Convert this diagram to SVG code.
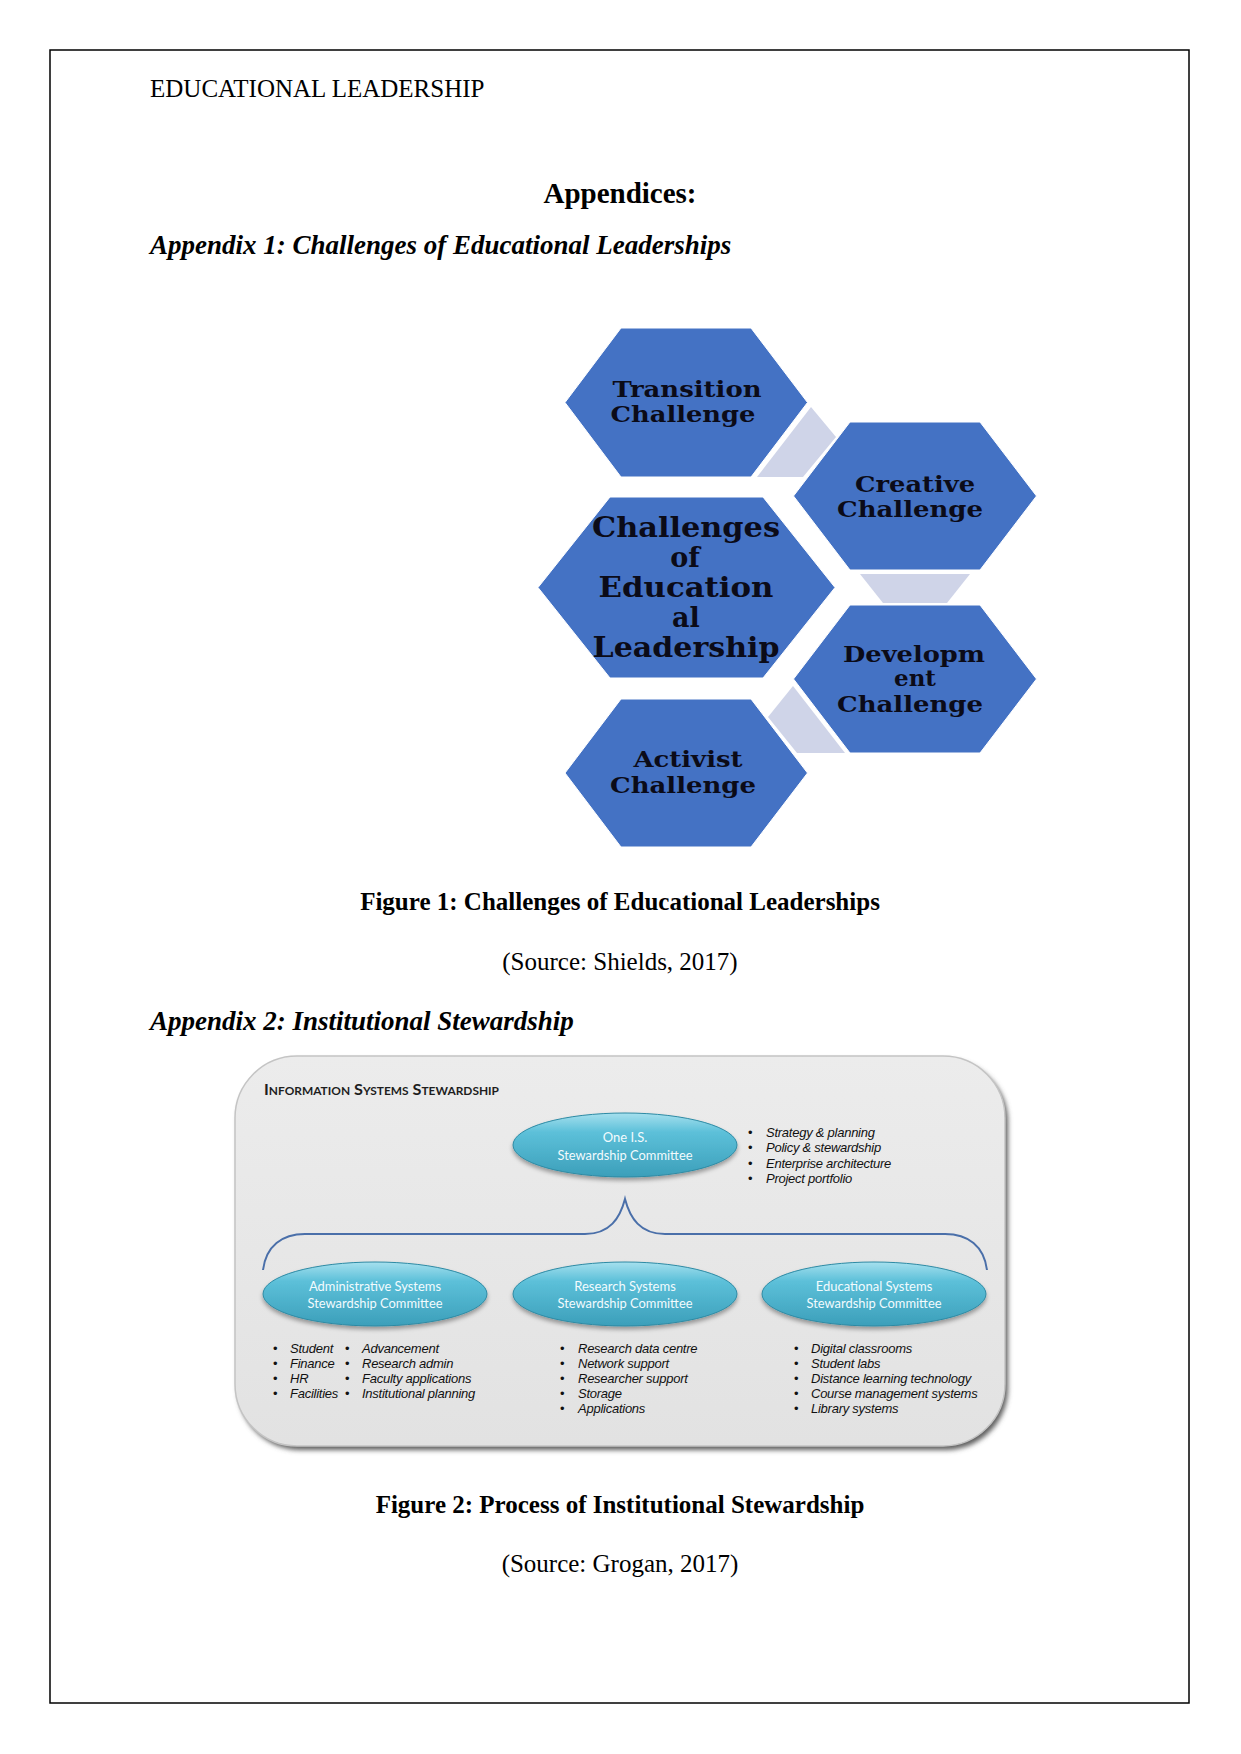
<svg xmlns="http://www.w3.org/2000/svg" width="1241" height="1754" viewBox="0 0 1241 1754">
<style>
.pg{font-family:"Liberation Serif","Times New Roman",serif;fill:#000}
.hx{fill:#4472C4;stroke:#ffffff;stroke-width:1}
.cn{fill:#CFD4E8}
.ht{font-family:"DejaVu Serif","Liberation Serif",serif;font-weight:bold;fill:#0b0b18;text-anchor:middle}
.et{font-family:Lato,"Open Sans",sans-serif;font-size:13px;fill:#f2fbfe;text-anchor:middle}
.bl{font-family:"Liberation Sans",Arial,sans-serif;font-style:italic;font-size:13px;letter-spacing:-0.25px;fill:#111}
.bu{font-family:"Liberation Sans",Arial,sans-serif;font-size:13px;fill:#111}
.ell{fill:url(#eg);stroke:#2d8aa4;stroke-width:1;filter:url(#es)}
</style>
<defs>
<linearGradient id="eg" x1="0" y1="0" x2="0" y2="1">
<stop offset="0" stop-color="#a6e0ee"/>
<stop offset="0.3" stop-color="#5cc0d9"/>
<stop offset="1" stop-color="#3c9fba"/>
</linearGradient>
<linearGradient id="fg" x1="0" y1="0" x2="0" y2="1">
<stop offset="0" stop-color="#ececec"/>
<stop offset="1" stop-color="#e2e2e2"/>
</linearGradient>
<filter id="es" x="-10%" y="-20%" width="120%" height="150%">
<feDropShadow dx="0" dy="3" stdDeviation="2" flood-color="#000" flood-opacity="0.35"/>
</filter>
<filter id="fs" x="-5%" y="-5%" width="110%" height="115%">
<feGaussianBlur stdDeviation="2.5"/>
</filter>
</defs>
<rect x="0" y="0" width="1241" height="1754" fill="#ffffff"/>
<rect x="50" y="50" width="1139" height="1653" fill="none" stroke="#000" stroke-width="1.5"/>

<text class="pg" x="150" y="97" font-size="25">EDUCATIONAL LEADERSHIP</text>
<text class="pg" x="620" y="203" font-size="29" font-weight="bold" text-anchor="middle">Appendices:</text>
<text class="pg" x="150" y="254" font-size="27" font-weight="bold" font-style="italic">Appendix 1: Challenges of Educational Leaderships</text>

<g id="connectors">
<polygon class="cn" points="811,407 836,437 803,477 757,477"/>
<polygon class="cn" points="860,574 970,574 947,603 883,603"/>
<polygon class="cn" points="793,686 768,717 797,753 845,753"/>
</g>

<g id="hex-transition">
<polygon class="hx" points="565,402.5 621,328 751,328 807.5,402.5 751,477 621,477"/>
<text class="ht" font-size="23"><tspan x="687" y="397" textLength="149" lengthAdjust="spacingAndGlyphs">Transition</tspan><tspan x="683" y="422" textLength="145" lengthAdjust="spacingAndGlyphs">Challenge</tspan></text>
</g>
<g id="hex-creative">
<polygon class="hx" points="793.5,496 850,422 980,422 1036.5,496 980,570 850,570"/>
<text class="ht" font-size="23"><tspan x="915" y="492" textLength="120" lengthAdjust="spacingAndGlyphs">Creative</tspan><tspan x="910" y="517" textLength="146" lengthAdjust="spacingAndGlyphs">Challenge</tspan></text>
</g>
<g id="hex-center">
<polygon class="hx" points="538,587.5 610,497 763,497 835,587.5 763,678 610,678"/>
<text class="ht" font-size="27"><tspan x="686" y="537" textLength="188" lengthAdjust="spacingAndGlyphs">Challenges</tspan><tspan x="685" y="567">of</tspan><tspan x="686" y="597" textLength="175" lengthAdjust="spacingAndGlyphs">Education</tspan><tspan x="686" y="627">al</tspan><tspan x="686" y="657" textLength="187" lengthAdjust="spacingAndGlyphs">Leadership</tspan></text>
</g>
<g id="hex-development">
<polygon class="hx" points="793.5,679 850,605 980,605 1036.5,679 980,753 850,753"/>
<text class="ht" font-size="23"><tspan x="914" y="662" textLength="142" lengthAdjust="spacingAndGlyphs">Developm</tspan><tspan x="915" y="686">ent</tspan><tspan x="910" y="712" textLength="146" lengthAdjust="spacingAndGlyphs">Challenge</tspan></text>
</g>
<g id="hex-activist">
<polygon class="hx" points="565,773 621,699 751,699 807.5,773 751,847 621,847"/>
<text class="ht" font-size="23"><tspan x="688" y="767" textLength="109" lengthAdjust="spacingAndGlyphs">Activist</tspan><tspan x="683" y="793" textLength="146" lengthAdjust="spacingAndGlyphs">Challenge</tspan></text>
</g>

<text class="pg" x="620" y="910" font-size="25" font-weight="bold" text-anchor="middle">Figure 1: Challenges of Educational Leaderships</text>
<text class="pg" x="620" y="970" font-size="25" text-anchor="middle">(Source: Shields, 2017)</text>
<text class="pg" x="150" y="1030" font-size="27" font-weight="bold" font-style="italic">Appendix 2: Institutional Stewardship</text>

<g id="stewardship-frame">
<rect x="238" y="1060" width="770" height="390" rx="62" ry="62" fill="#5e5e5e" filter="url(#fs)"/>
<rect x="235" y="1056" width="770" height="390" rx="62" ry="62" fill="url(#fg)" stroke="#c4c4c4" stroke-width="1.5"/>
<text x="264" y="1095" font-family="Lato,'Liberation Sans',sans-serif" font-weight="bold" font-size="15" font-variant="small-caps" fill="#1e1e1e" textLength="235" lengthAdjust="spacingAndGlyphs">Information Systems Stewardship</text>
</g>

<g id="connectors-brace">
<path d="M263,1270 C266,1246 282,1234 305,1234 L585,1234 C610,1234 620,1218 625,1199 C630,1218 640,1234 665,1234 L945,1234 C968,1234 984,1246 987,1270" fill="none" stroke="#4a6fa9" stroke-width="2"/>
</g>

<g id="node-one-is">
<ellipse class="ell" cx="625" cy="1145" rx="112" ry="32"/>
<text class="et"><tspan x="625" y="1142">One I.S.</tspan><tspan x="625" y="1160" textLength="135" lengthAdjust="spacingAndGlyphs">Stewardship Committee</tspan></text>
<text class="bu"><tspan x="748" y="1137">•</tspan><tspan x="748" y="1152">•</tspan><tspan x="748" y="1168">•</tspan><tspan x="748" y="1183">•</tspan></text>
<text class="bl"><tspan x="766" y="1137">Strategy &amp; planning</tspan><tspan x="766" y="1152">Policy &amp; stewardship</tspan><tspan x="766" y="1168">Enterprise architecture</tspan><tspan x="766" y="1183">Project portfolio</tspan></text>
</g>

<g id="node-admin">
<ellipse class="ell" cx="375" cy="1294" rx="112" ry="32"/>
<text class="et"><tspan x="375" y="1291" textLength="132" lengthAdjust="spacingAndGlyphs">Administrative Systems</tspan><tspan x="375" y="1308" textLength="135" lengthAdjust="spacingAndGlyphs">Stewardship Committee</tspan></text>
<text class="bu"><tspan x="273" y="1353">•</tspan><tspan x="273" y="1368">•</tspan><tspan x="273" y="1383">•</tspan><tspan x="273" y="1398">•</tspan><tspan x="345" y="1353">•</tspan><tspan x="345" y="1368">•</tspan><tspan x="345" y="1383">•</tspan><tspan x="345" y="1398">•</tspan></text>
<text class="bl"><tspan x="290" y="1353">Student</tspan><tspan x="290" y="1368">Finance</tspan><tspan x="290" y="1383">HR</tspan><tspan x="290" y="1398">Facilities</tspan><tspan x="362" y="1353">Advancement</tspan><tspan x="362" y="1368">Research admin</tspan><tspan x="362" y="1383">Faculty applications</tspan><tspan x="362" y="1398">Institutional planning</tspan></text>
</g>

<g id="node-research">
<ellipse class="ell" cx="625" cy="1294" rx="112" ry="32"/>
<text class="et"><tspan x="625" y="1291">Research Systems</tspan><tspan x="625" y="1308" textLength="135" lengthAdjust="spacingAndGlyphs">Stewardship Committee</tspan></text>
<text class="bu"><tspan x="560" y="1353">•</tspan><tspan x="560" y="1368">•</tspan><tspan x="560" y="1383">•</tspan><tspan x="560" y="1398">•</tspan><tspan x="560" y="1413">•</tspan></text>
<text class="bl"><tspan x="578" y="1353">Research data centre</tspan><tspan x="578" y="1368">Network support</tspan><tspan x="578" y="1383">Researcher support</tspan><tspan x="578" y="1398">Storage</tspan><tspan x="578" y="1413">Applications</tspan></text>
</g>

<g id="node-educational">
<ellipse class="ell" cx="874" cy="1294" rx="112" ry="32"/>
<text class="et"><tspan x="874" y="1291">Educational Systems</tspan><tspan x="874" y="1308" textLength="135" lengthAdjust="spacingAndGlyphs">Stewardship Committee</tspan></text>
<text class="bu"><tspan x="794" y="1353">•</tspan><tspan x="794" y="1368">•</tspan><tspan x="794" y="1383">•</tspan><tspan x="794" y="1398">•</tspan><tspan x="794" y="1413">•</tspan></text>
<text class="bl"><tspan x="811" y="1353">Digital classrooms</tspan><tspan x="811" y="1368">Student labs</tspan><tspan x="811" y="1383">Distance learning technology</tspan><tspan x="811" y="1398">Course management systems</tspan><tspan x="811" y="1413">Library systems</tspan></text>
</g>

<text class="pg" x="620" y="1513" font-size="25" font-weight="bold" text-anchor="middle">Figure 2: Process of Institutional Stewardship</text>
<text class="pg" x="620" y="1572" font-size="25" text-anchor="middle">(Source: Grogan, 2017)</text>
</svg>
